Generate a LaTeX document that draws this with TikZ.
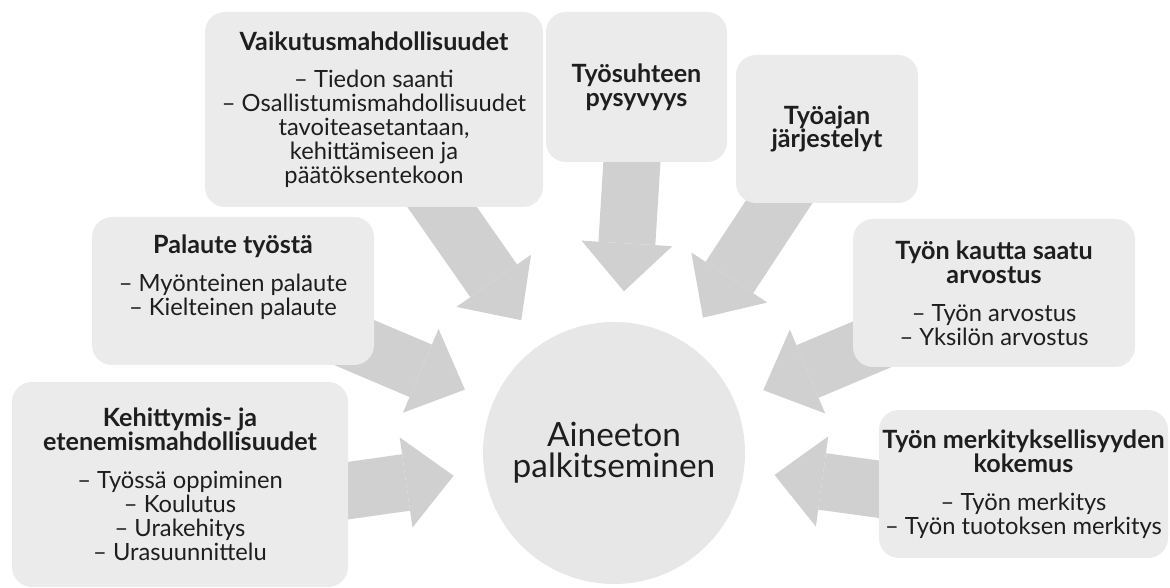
\documentclass[tikz,border=0pt]{standalone}
\usepackage{fontspec}
\setmainfont{Lato}
\usetikzlibrary{arrows.meta,backgrounds}
\definecolor{boxgray}{HTML}{EBEBEB}
\definecolor{arrowgray}{HTML}{D0D0D0}
\definecolor{circgray}{HTML}{E7E7E7}
\definecolor{textgray}{HTML}{1E1E1E}
\newcommand{\boxtitle}[1]{{\fontsize{14.3}{14.3}\selectfont\bfseries #1}}
\begin{document}
\begin{tikzpicture}[font=\fontsize{13.5}{13.6}\selectfont,text=textgray,
    box/.style={fill=boxgray,rounded corners=0.4cm,align=center,inner sep=0pt},
    bigarrow/.style={draw=arrowgray,line width=1.14cm,
      -{Triangle[length=0.96cm,width=1.82cm,line width=0pt]},shorten >=3.24cm}]
    \useasboundingbox (0,0) rectangle (23.4,-11.76);
    % boxes
    \node[box,minimum width=6.76cm,minimum height=3.9cm] (vaikutus) at (7.48,-2.19)
      {\boxtitle{Vaikutusmahdollisuudet}\\[8pt]– Tiedon saanti\\– Osallistumismahdollisuudet\\tavoiteasetantaan,\\kehittämiseen ja\\päätöksentekoon};
    \node[box,minimum width=3.62cm,minimum height=3.0cm] (pysyvyys) at (12.73,-1.74)
      {\boxtitle{Työsuhteen}\\\boxtitle{pysyvyys}};
    \node[box,minimum width=3.64cm,minimum height=2.96cm] (tyoaika) at (16.54,-2.58)
      {\boxtitle{Työajan}\\\boxtitle{järjestelyt}};
    \node[box,minimum width=5.64cm,minimum height=2.96cm] (palaute) at (4.66,-5.82)
      {\boxtitle{Palaute työstä}\\[8pt]– Myönteinen palaute\\– Kielteinen palaute\\[4pt]};
    \node[box,minimum width=6.72cm,minimum height=4.1cm] (kehitys) at (3.6,-9.69)
      {\boxtitle{Kehittymis- ja}\\\boxtitle{etenemismahdollisuudet}\\[8pt]– Työssä oppiminen\\– Koulutus\\– Urakehitys\\– Urasuunnittelu};
    \node[box,minimum width=5.64cm,minimum height=2.96cm] (arvostus) at (19.88,-5.86)
      {\boxtitle{Työn kautta saatu}\\\boxtitle{arvostus}\\[8pt]– Työn arvostus\\– Yksilön arvostus};
    \node[box,minimum width=5.78cm,minimum height=2.96cm] (merkitys) at (20.47,-9.68)
      {\boxtitle{Työn merkityksellisyyden}\\\boxtitle{kokemus}\\[8pt]– Työn merkitys\\– Työn tuotoksen merkitys};
    % centre
    \node[circle,fill=circgray,minimum size=5.24cm,align=center,
      font=\fontsize{19}{17.5}\selectfont] (aineeton) at (12.28,-9.06) {Aineeton\\palkitseminen};
    % arrows
    \begin{scope}[on background layer]
      \draw[bigarrow] (vaikutus.center) -- (aineeton.center);
      \draw[bigarrow] (pysyvyys.center) -- (aineeton.center);
      \draw[bigarrow] (tyoaika.center) -- (aineeton.center);
      \draw[bigarrow] (palaute.center) -- (aineeton.center);
      \draw[bigarrow] ([yshift=-0.6cm]kehitys.center) -- (aineeton.center);
      \draw[bigarrow] (arvostus.center) -- (aineeton.center);
      \draw[bigarrow] ([yshift=-0.5cm]merkitys.center) -- (aineeton.center);
    \end{scope}
\end{tikzpicture}
\end{document}
